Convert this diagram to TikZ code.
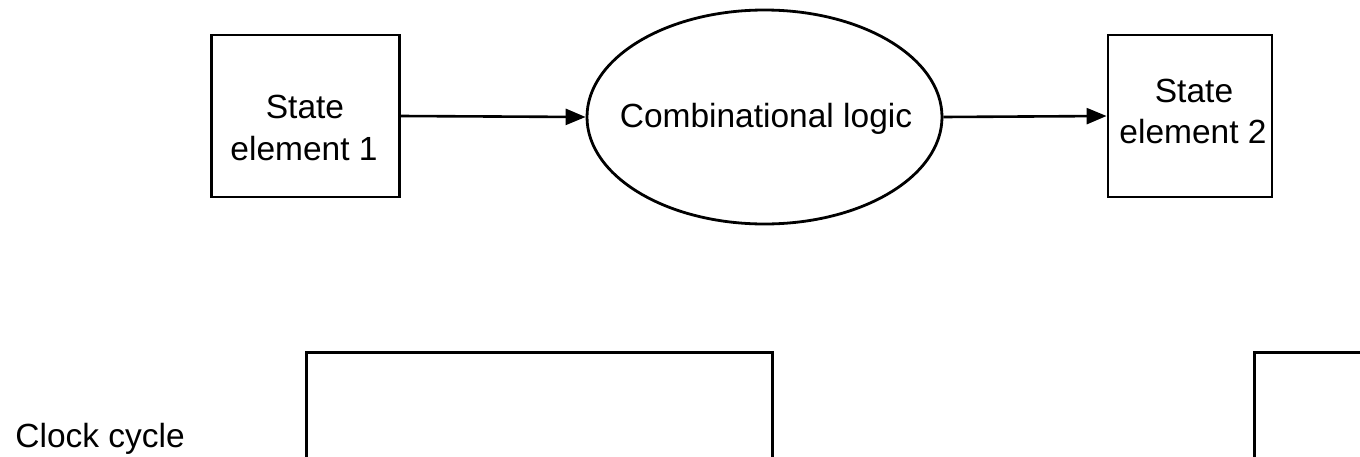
\documentclass[tikz,border=0pt]{standalone}
\usepackage{fontspec}
\setmainfont{Liberation Sans}
\usetikzlibrary{shapes.geometric,arrows.meta}
\begin{document}
\begin{tikzpicture}[x=1pt,y=-1pt,
  line width=2.8pt,
  every node/.style={font=\fontsize{33.5}{42}\selectfont},
  stbox/.style={draw, rectangle, inner sep=0pt, minimum width=#1, minimum height=162pt},
  logic/.style={draw, ellipse, inner sep=0pt, minimum width=355pt, minimum height=214pt},
  lbl/.style={anchor=base, inner sep=0pt},
  conn/.style={-{Triangle[length=20pt,width=16pt]}, line width=2.6pt},
  wave/.style={line width=3pt}
]
\useasboundingbox (0,0) rectangle (1360,456);
% state elements
\node[stbox=188pt] (s1) at (305.5,116) {};
\node[lbl] (s1a) at (305,118) {State};
\node[lbl] (s1b) at (304,160) {element 1};
\node[logic] (cl) at (764.5,117) {};
\node[lbl] (clt) at (766,127) {Combinational logic};
\node[stbox=164pt] (s2) at (1190,116) {};
\node[lbl] (s2a) at (1194,102) {State};
\node[lbl] (s2b) at (1193,143) {element 2};
% connectors
\draw[conn] (s1.east) -- (cl.west);
\draw[conn] (cl.east) -- (s2.west);
% clock
\node[anchor=base west, inner sep=0pt] (clk) at (14,447) {Clock cycle};
\coordinate (w1) at (306.7,460);
\coordinate (w2) at (772,352.7);
\coordinate (w3) at (772,460);
\coordinate (w4) at (1254,460);
\coordinate (w5) at (1365,352.7);
\draw[wave] (w1) |- (w2) -- (w3);
\draw[wave] (w4) |- (w5);
\end{tikzpicture}
\end{document}
